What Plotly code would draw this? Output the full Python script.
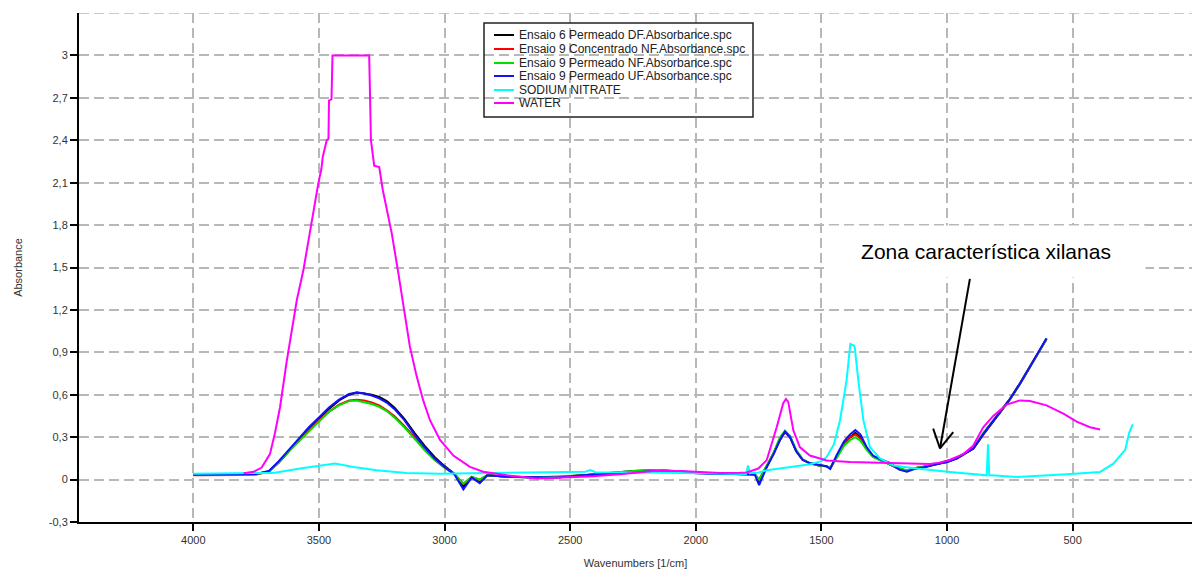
import math
import plotly.graph_objects as go

# ---------------- data ----------------
x_ticks = [4000, 3500, 3000, 2500, 2000, 1500, 1000, 500]
y_ticks = [-0.3, 0, 0.3, 0.6, 0.9, 1.2, 1.5, 1.8, 2.1, 2.4, 2.7, 3]
y_tick_labels = ["-0,3", "0", "0,3", "0,6", "0,9", "1,2", "1,5", "1,8", "2,1", "2,4", "2,7", "3"]

wn_samples = [4000, 3900, 3800, 3750, 3700, 3660, 3620, 3580, 3540, 3500, 3460, 3420, 3380,
              3350, 3320, 3290, 3260, 3230, 3200, 3160, 3120, 3080, 3040, 3000, 2960, 2925,
              2892, 2860, 2830, 2750, 2650, 2550, 2450, 2350, 2250, 2150, 2050, 1950, 1850,
              1790, 1765, 1748, 1720, 1690, 1665, 1645, 1625, 1600, 1575, 1545, 1510, 1480,
              1465, 1440, 1410, 1385, 1365, 1345, 1320, 1295, 1260, 1230, 1190, 1160, 1130,
              1080, 1040, 1000, 960, 930, 895, 855, 820, 780, 750, 710, 670, 637, 604]

ensaio6_perm_df = [0.035, 0.035, 0.036, 0.040, 0.058, 0.12, 0.20, 0.28, 0.36, 0.43, 0.50, 0.56, 0.60,
                   0.615, 0.61, 0.60, 0.585, 0.555, 0.51, 0.43, 0.33, 0.24, 0.16, 0.095, 0.04, -0.05,
                   0.015, -0.02, 0.03, 0.02, 0.015, 0.018, 0.03, 0.045, 0.06, 0.068, 0.055, 0.045, 0.040,
                   0.040, 0.038, -0.02, 0.08, 0.18, 0.28, 0.335, 0.30, 0.20, 0.14, 0.115, 0.10, 0.095,
                   0.08, 0.16, 0.255, 0.30, 0.33, 0.30, 0.22, 0.165, 0.135, 0.115, 0.075, 0.06, 0.08,
                   0.095, 0.11, 0.125, 0.15, 0.18, 0.22, 0.32, 0.405, 0.495, 0.565, 0.675, 0.795, 0.895, 0.995]

ensaio9_conc_nf = [0.030, 0.030, 0.032, 0.036, 0.055, 0.12, 0.20, 0.27, 0.35, 0.42, 0.48, 0.53, 0.56,
                   0.565, 0.56, 0.545, 0.525, 0.49, 0.45, 0.38, 0.30, 0.21, 0.14, 0.085, 0.04, -0.03,
                   0.02, 0.0, 0.03, 0.02, 0.015, 0.015, 0.03, 0.04, 0.055, 0.062, 0.05, 0.042, 0.040,
                   0.040, 0.038, 0.0, 0.085, 0.185, 0.29, 0.34, 0.30, 0.20, 0.14, 0.115, 0.10, 0.095,
                   0.08, 0.16, 0.25, 0.30, 0.32, 0.29, 0.22, 0.165, 0.135, 0.115, 0.075, 0.065, 0.08,
                   0.095, 0.115, 0.13, 0.15, 0.185, 0.22, 0.325, 0.41, 0.50, 0.57, 0.68, 0.80, 0.90, 0.995]

ensaio9_perm_nf = [0.032, 0.032, 0.034, 0.038, 0.056, 0.12, 0.20, 0.27, 0.34, 0.41, 0.48, 0.525, 0.555,
                   0.56, 0.55, 0.535, 0.515, 0.485, 0.44, 0.37, 0.29, 0.21, 0.14, 0.085, 0.04, -0.03,
                   0.02, 0.0, 0.03, 0.02, 0.015, 0.02, 0.03, 0.045, 0.06, 0.068, 0.055, 0.045, 0.040,
                   0.040, 0.04, 0.0, 0.09, 0.19, 0.30, 0.345, 0.31, 0.21, 0.145, 0.115, 0.10, 0.095,
                   0.085, 0.15, 0.24, 0.28, 0.30, 0.275, 0.21, 0.16, 0.13, 0.11, 0.08, 0.065, 0.08,
                   0.095, 0.115, 0.13, 0.155, 0.19, 0.225, 0.33, 0.41, 0.50, 0.57, 0.68, 0.80, 0.90, 0.995]

ensaio9_perm_uf = [0.035, 0.035, 0.036, 0.040, 0.060, 0.13, 0.21, 0.29, 0.37, 0.44, 0.51, 0.565, 0.605,
                   0.615, 0.61, 0.595, 0.575, 0.545, 0.50, 0.42, 0.32, 0.23, 0.15, 0.09, 0.035, -0.07,
                   0.015, -0.025, 0.03, 0.02, 0.015, 0.015, 0.03, 0.04, 0.055, 0.06, 0.05, 0.042, 0.040,
                   0.040, 0.035, -0.04, 0.08, 0.18, 0.28, 0.34, 0.30, 0.20, 0.14, 0.115, 0.105, 0.095,
                   0.075, 0.17, 0.27, 0.32, 0.35, 0.32, 0.23, 0.17, 0.14, 0.12, 0.07, 0.055, 0.075,
                   0.09, 0.11, 0.125, 0.15, 0.185, 0.22, 0.325, 0.41, 0.50, 0.57, 0.68, 0.80, 0.90, 1.00]

wn_nitrate = [4000, 3850, 3750, 3682, 3575, 3496, 3436, 3363, 3270, 3151, 3018, 2900, 2700, 2500,
              2440, 2420, 2400, 2200, 2000, 1850, 1800, 1792, 1785, 1750, 1718, 1680, 1625, 1545,
              1500, 1479, 1450, 1426, 1400, 1385, 1372, 1367, 1353, 1333, 1307, 1267, 1214, 1121,
              988, 855, 842, 837, 832, 822, 723, 524, 391, 338, 291, 275, 261]
sodium_nitrate = [0.042, 0.042, 0.045, 0.047, 0.078, 0.10, 0.113, 0.089, 0.066, 0.047, 0.042, 0.045,
                  0.048, 0.05, 0.055, 0.068, 0.052, 0.05, 0.045, 0.04, 0.04, 0.10, 0.045, 0.05, 0.066,
                  0.075, 0.09, 0.108, 0.13, 0.16, 0.25, 0.42, 0.70, 0.96, 0.95, 0.93, 0.70, 0.42, 0.23,
                  0.15, 0.10, 0.078, 0.054, 0.03, 0.03, 0.25, 0.03, 0.03, 0.018, 0.037, 0.054, 0.113,
                  0.21, 0.33, 0.39]

wn_water = [3800, 3760, 3728, 3695, 3675, 3655, 3628, 3608, 3588, 3562, 3542, 3522, 3503, 3490,
            3485, 3469, 3462, 3460, 3450, 3446, 3300, 3297, 3293, 3280, 3265, 3260, 3246, 3224,
            3210, 3184, 3164, 3138, 3111, 3085, 3058, 3018, 2965, 2899, 2846, 2800, 2753, 2633,
            2501, 2408, 2302, 2169, 2062, 1996, 1903, 1824, 1798, 1751, 1718, 1678, 1652, 1641,
            1632, 1612, 1586, 1546, 1479, 1386, 1254, 1121, 1068, 1028, 988, 935, 896, 856, 816,
            763, 710, 670, 604, 537, 484, 431, 391]
water = [0.045, 0.055, 0.085, 0.18, 0.33, 0.51, 0.84, 1.06, 1.27, 1.48, 1.69, 1.90, 2.09, 2.20,
         2.28, 2.40, 2.41, 2.68, 2.69, 3.0, 3.0, 2.75, 2.40, 2.22, 2.21, 2.21, 2.05, 1.86,
         1.74, 1.46, 1.22, 0.94, 0.73, 0.56, 0.42, 0.28, 0.17, 0.09, 0.055, 0.04, 0.03, 0.008,
         0.014, 0.023, 0.037, 0.061, 0.061, 0.054, 0.047, 0.048, 0.05, 0.078, 0.137, 0.37, 0.54, 0.57,
         0.55, 0.35, 0.23, 0.17, 0.135, 0.125, 0.12, 0.115, 0.11, 0.12, 0.14, 0.18, 0.24, 0.37, 0.45,
         0.53, 0.56, 0.556, 0.525, 0.467, 0.41, 0.37, 0.354]

series_names = ["Ensaio 6 Permeado DF.Absorbance.spc",
                "Ensaio 9 Concentrado NF.Absorbance.spc",
                "Ensaio 9 Permeado NF.Absorbance.spc",
                "Ensaio 9 Permeado UF.Absorbance.spc",
                "SODIUM NITRATE",
                "WATER"]
series_x = [wn_samples, wn_samples, wn_samples, wn_samples, wn_nitrate, wn_water]
series_y = [ensaio6_perm_df, ensaio9_conc_nf, ensaio9_perm_nf, ensaio9_perm_uf, sodium_nitrate, water]
series_colors = ["#000000", "#ff0000", "#00e000", "#1010ff", "#00ffff", "#ff00ff"]

annotation_text = "Zona característica xilanas"
annot_x, annot_y = 845, 1.61
arrow_tail = (909, 1.42)
arrow_tip = (1028, 0.22)

# ---------------- figure ----------------
W, H = 1192, 571
ML, MR, MT, MB = 79, 0, 13, 49
PW, PH = W - ML - MR, H - MT - MB
X_RANGE = [4455, 25]
Y_RANGE = [-0.3, 3.3]
FONT = "Arial, 'Liberation Sans', sans-serif"


def pxx(x):
    return (x - ML) / PW


def pxy(y):
    return (H - MB - y) / PH


fig = go.Figure()
for name, xs, ys, col in zip(series_names, series_x, series_y, series_colors):
    fig.add_trace(go.Scatter(x=xs, y=ys, mode="lines", name=name,
                             line=dict(color=col, width=2), showlegend=False))

grid = dict(showgrid=True, gridcolor="#b8b8b8", gridwidth=1.5, griddash="10px,5px")

fig.update_layout(
    width=W, height=H,
    margin=dict(l=ML, r=MR, t=MT, b=MB),
    paper_bgcolor="white", plot_bgcolor="white",
    font=dict(family=FONT, size=11, color="#333333"),
    showlegend=False,
    xaxis=dict(range=X_RANGE, tickmode="array", tickvals=x_ticks,
               ticktext=[str(v) for v in x_ticks],
               showline=True, linecolor="black", linewidth=2,
               ticks="outside", ticklen=7, tickwidth=2, tickcolor="black",
               tickfont=dict(size=11, color="#333333"),
               zeroline=False,
               title=dict(text="Wavenumbers [1/cm]", font=dict(size=11, color="#333333"), standoff=14),
               **grid),
    yaxis=dict(range=Y_RANGE, tickmode="array", tickvals=y_ticks, ticktext=y_tick_labels,
               showline=True, linecolor="black", linewidth=2,
               ticks="outside", ticklen=7, tickwidth=2, tickcolor="black",
               tickfont=dict(size=11, color="#333333"),
               zeroline=False,
               title=dict(text="Absorbance", font=dict(size=11, color="#333333"), standoff=24),
               **grid),
)

# top gridline at 3.3 (no tick label)
fig.add_shape(type="line", xref="paper", yref="y", x0=0, x1=1, y0=3.3, y1=3.3,
              line=dict(color="#b8b8b8", width=1.5, dash="10px,5px"), layer="below")

# custom compact legend (transparent box with black border)
lg_left, lg_right, lg_top, lg_bottom = 484, 753, 23, 117
fig.add_shape(type="rect", xref="paper", yref="paper",
              x0=pxx(lg_left), x1=pxx(lg_right), y0=pxy(lg_bottom), y1=pxy(lg_top),
              line=dict(color="#222222", width=1.5), fillcolor="rgba(0,0,0,0)")
row_y = [35, 49, 63, 76, 90, 103]
for name, col, ry in zip(series_names, series_colors, row_y):
    fig.add_shape(type="line", xref="paper", yref="paper",
                  x0=pxx(494), x1=pxx(514), y0=pxy(ry), y1=pxy(ry),
                  line=dict(color=col, width=2))
    fig.add_annotation(xref="paper", yref="paper", x=pxx(517), y=pxy(ry),
                       xanchor="left", yanchor="middle", text=name, showarrow=False,
                       font=dict(size=12, color="#222222", family=FONT))

# annotation box
fig.add_annotation(x=annot_x, y=annot_y, xref="x", yref="y", text=annotation_text,
                   showarrow=False, bgcolor="white", borderpad=8, width=302, height=35,
                   font=dict(size=21, color="black", family=FONT))

# arrow: shaft + open V head (thin arms), computed in pixel space
sx = PW / (X_RANGE[0] - X_RANGE[1])   # px per wavenumber (axis reversed)
sy = PH / (Y_RANGE[1] - Y_RANGE[0])   # px per absorbance unit
dx_px = -(arrow_tail[0] - arrow_tip[0]) * sx
dy_px = (arrow_tail[1] - arrow_tip[1]) * sy
norm = math.hypot(dx_px, dy_px)
ux, uy = dx_px / norm, dy_px / norm
arm_len, arm_ang = 21, math.radians(29)
arrow_line = dict(color="black", width=2)
fig.add_shape(type="line", xref="x", yref="y", x0=arrow_tail[0], y0=arrow_tail[1],
              x1=arrow_tip[0], y1=arrow_tip[1], line=arrow_line)
for sgn in (1, -1):
    c, s = math.cos(sgn * arm_ang), math.sin(sgn * arm_ang)
    ax_px = (ux * c - uy * s) * arm_len
    ay_px = (ux * s + uy * c) * arm_len
    fig.add_shape(type="line", xref="x", yref="y",
                  x0=arrow_tip[0], y0=arrow_tip[1],
                  x1=arrow_tip[0] - ax_px / sx, y1=arrow_tip[1] + ay_px / sy,
                  line=arrow_line)

fig.write_html("out.html")
